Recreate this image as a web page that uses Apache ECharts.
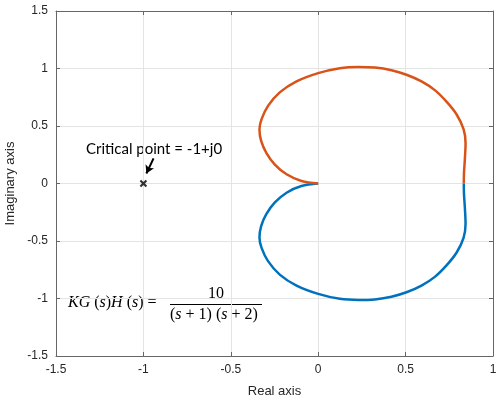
<!DOCTYPE html>
<html>
<head>
<meta charset="utf-8">
<script src="https://cdn.jsdelivr.net/npm/echarts@6/dist/echarts.min.js"></script>
<style>html,body{margin:0;padding:0;background:#fff}#c{width:500px;height:398px}</style>
</head>
<body>
<div id="c"></div>
<script>
// Positive-frequency branch (orange): [real, imag]
const positiveBranch = [
  [0.833, 0.000], [0.834, 0.090], [0.839, 0.210], [0.843, 0.350], [0.832, 0.470],
  [0.792, 0.600], [0.734, 0.712], [0.667, 0.812], [0.591, 0.888], [0.505, 0.946],
  [0.419, 0.985], [0.324, 1.008], [0.230, 1.013], [0.124, 1.003], [0.000, 0.960],
  [-0.124, 0.888], [-0.220, 0.792], [-0.287, 0.675], [-0.324, 0.560], [-0.336, 0.470],
  [-0.326, 0.368], [-0.296, 0.265], [-0.248, 0.165], [-0.181, 0.080], [-0.096, 0.022],
  [0.000, 0.000]
];
// Negative-frequency branch (blue): [real, imag]
const negativeBranch = [
  [0.833, -0.000], [0.834, -0.090], [0.839, -0.210], [0.843, -0.350], [0.832, -0.470],
  [0.792, -0.600], [0.734, -0.712], [0.667, -0.812], [0.591, -0.888], [0.505, -0.946],
  [0.419, -0.985], [0.324, -1.008], [0.230, -1.013], [0.124, -1.003], [0.000, -0.960],
  [-0.124, -0.888], [-0.220, -0.792], [-0.287, -0.675], [-0.324, -0.560], [-0.336, -0.470],
  [-0.326, -0.368], [-0.296, -0.265], [-0.248, -0.165], [-0.181, -0.080], [-0.096, -0.022],
  [0.000, 0.000]
];
const criticalPoint = [[-1, 0]];
const arrowFrom = [-0.942, 0.219];
const arrowTo = [-0.983, 0.087];
const xTicks = { min: -1.5, max: 1, interval: 0.5 };
const yTicks = { min: -1.5, max: 1.5, interval: 0.5 };
const xName = 'Real axis';
const yName = 'Imaginary axis';
const annotationText = 'Critical point = -1+j0';

const axisColor = '#666';
const labelStyle = { color: '#262626', fontSize: 12, fontFamily: 'Liberation Sans, Arial, sans-serif' };
const chart = echarts.init(document.getElementById('c'), null, { renderer: 'canvas' });

function xAxisDef(pos, main) {
  return {
    type: 'value', position: pos, min: xTicks.min, max: xTicks.max, interval: xTicks.interval,
    axisLine: { show: true, onZero: false, lineStyle: { color: axisColor, width: 1 } },
    axisTick: { show: true, inside: true, length: 4, lineStyle: { color: axisColor } },
    axisLabel: Object.assign({ show: main, margin: 8 }, labelStyle),
    splitLine: { show: main, lineStyle: { color: '#e4e4e4', width: 1 } },
    name: main ? xName : '', nameLocation: 'middle', nameGap: 29,
    nameTextStyle: { color: '#262626', fontSize: 13, fontFamily: 'Liberation Sans, Arial, sans-serif' }
  };
}
function yAxisDef(pos, main) {
  return {
    type: 'value', position: pos, min: yTicks.min, max: yTicks.max, interval: yTicks.interval,
    axisLine: { show: true, onZero: false, lineStyle: { color: axisColor, width: 1 } },
    axisTick: { show: true, inside: true, length: 4, lineStyle: { color: axisColor } },
    axisLabel: Object.assign({ show: main, margin: 8 }, labelStyle),
    splitLine: { show: main, lineStyle: { color: '#e4e4e4', width: 1 } },
    name: main ? yName : '', nameLocation: 'middle', nameGap: 33,
    nameTextStyle: { color: '#262626', fontSize: 13, fontFamily: 'Liberation Sans, Arial, sans-serif' }
  };
}

const richMath = {
  i: { fontFamily: 'Liberation Serif', fontStyle: 'italic', fontSize: 16, fill: '#000' },
  n: { fontFamily: 'Liberation Serif', fontSize: 16, fill: '#000' }
};

chart.setOption({
  animation: false,
  backgroundColor: '#fff',
  grid: { left: 56, right: 7, top: 11, bottom: 42, containLabel: false, outerBoundsMode: 'none' },
  xAxis: [xAxisDef('bottom', true), xAxisDef('top', false)],
  yAxis: [yAxisDef('left', true), yAxisDef('right', false)],
  series: [
    {
      type: 'line', data: negativeBranch, showSymbol: false, smooth: 0.35,
      lineStyle: { color: '#0072BD', width: 2.5 }, z: 3
    },
    {
      type: 'line', data: positiveBranch, showSymbol: false, smooth: 0.35,
      lineStyle: { color: '#D95319', width: 2.5 }, z: 4
    },
    {
      type: 'scatter', data: criticalPoint,
      symbol: 'path://M0,0 L10,10 M10,0 L0,10', symbolSize: 6,
      itemStyle: { color: 'none', borderColor: '#000', borderWidth: 2.2 },
      z: 5,
      markLine: {
        silent: true, symbol: ['none', 'arrow'], symbolSize: [7, 8],
        label: { show: false },
        lineStyle: { color: '#000', width: 2, type: 'solid' },
        data: [[{ coord: arrowFrom }, { coord: arrowTo }]]
      }
    }
  ],
  graphic: [
    {
      type: 'text', left: 86, top: 142,
      style: { text: annotationText, fill: '#000', font: '15px Lato, "Open Sans", sans-serif' }
    },
    {
      type: 'text', left: 68, top: 295,
      style: { text: '{i|KG}{n| (}{i|s}{n|)}{i|H}{n| (}{i|s}{n|) =}', rich: richMath }
    },
    {
      type: 'text', left: 208, top: 286,
      style: { text: '10', fill: '#000', font: '16px "Liberation Serif"' }
    },
    {
      type: 'line', shape: { x1: 170, y1: 304.5, x2: 262, y2: 304.5 },
      style: { stroke: '#000', lineWidth: 1 }
    },
    {
      type: 'text', left: 170, top: 307,
      style: { text: '{n|(}{i|s}{n| + 1) (}{i|s}{n| + 2)}', rich: richMath }
    }
  ]
});
</script>
</body>
</html>
